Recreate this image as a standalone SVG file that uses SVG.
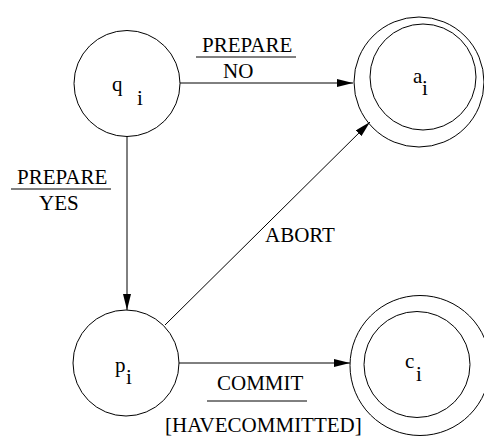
<svg xmlns="http://www.w3.org/2000/svg" width="484" height="437" viewBox="0 0 484 437">
<defs>
<style>
.n{fill:none;stroke:#000;stroke-width:1}
.e{fill:none;stroke:#000;stroke-width:1}
text{font-family:"Liberation Serif","Times New Roman",serif;font-size:21px;fill:#000}
</style>
<marker id="ah" markerWidth="16" markerHeight="8" refX="16" refY="4" orient="auto" markerUnits="userSpaceOnUse">
<path d="M0,0 L16,4 L0,8 z" fill="#000"/>
</marker>
</defs>
<rect width="484" height="437" fill="#fff"/>
<g id="connectors">
<line class="e" x1="180" y1="83" x2="353" y2="83" marker-end="url(#ah)"/>
<line class="e" x1="127" y1="136" x2="127" y2="310" marker-end="url(#ah)"/>
<line class="e" x1="165" y1="325" x2="370" y2="122" marker-end="url(#ah)"/>
<line class="e" x1="179" y1="363" x2="350" y2="363" marker-end="url(#ah)"/>
<text x="202" y="52">PREPARE</text>
<line class="e" x1="196" y1="57" x2="296" y2="57"/>
<text x="223" y="78">NO</text>
<text x="17" y="184">PREPARE</text>
<line class="e" x1="11" y1="189" x2="111" y2="189"/>
<text x="39" y="210">YES</text>
<text x="265" y="242">ABORT</text>
<text x="217" y="390">COMMIT</text>
<line class="e" x1="207" y1="401" x2="307" y2="401"/>
<text x="165" y="432">[HAVECOMMITTED]</text>
</g>
<g id="q_i">
<circle class="n" cx="127" cy="83.5" r="53"/>
<text x="112" y="91">q</text>
<text x="137" y="105">i</text>
</g>
<g id="a_i">
<circle class="n" cx="419" cy="82" r="65"/>
<circle class="n" cx="423" cy="77" r="53"/>
<text x="413" y="83">a</text>
<text x="422" y="95">i</text>
</g>
<g id="p_i">
<circle class="n" cx="126" cy="363" r="53"/>
<text x="115" y="372">p</text>
<text x="126" y="384">i</text>
</g>
<g id="c_i">
<circle class="n" cx="420" cy="365.5" r="70"/>
<circle class="n" cx="417" cy="364.5" r="53"/>
<text x="405" y="368">c</text>
<text x="416" y="381">i</text>
</g>
</svg>
